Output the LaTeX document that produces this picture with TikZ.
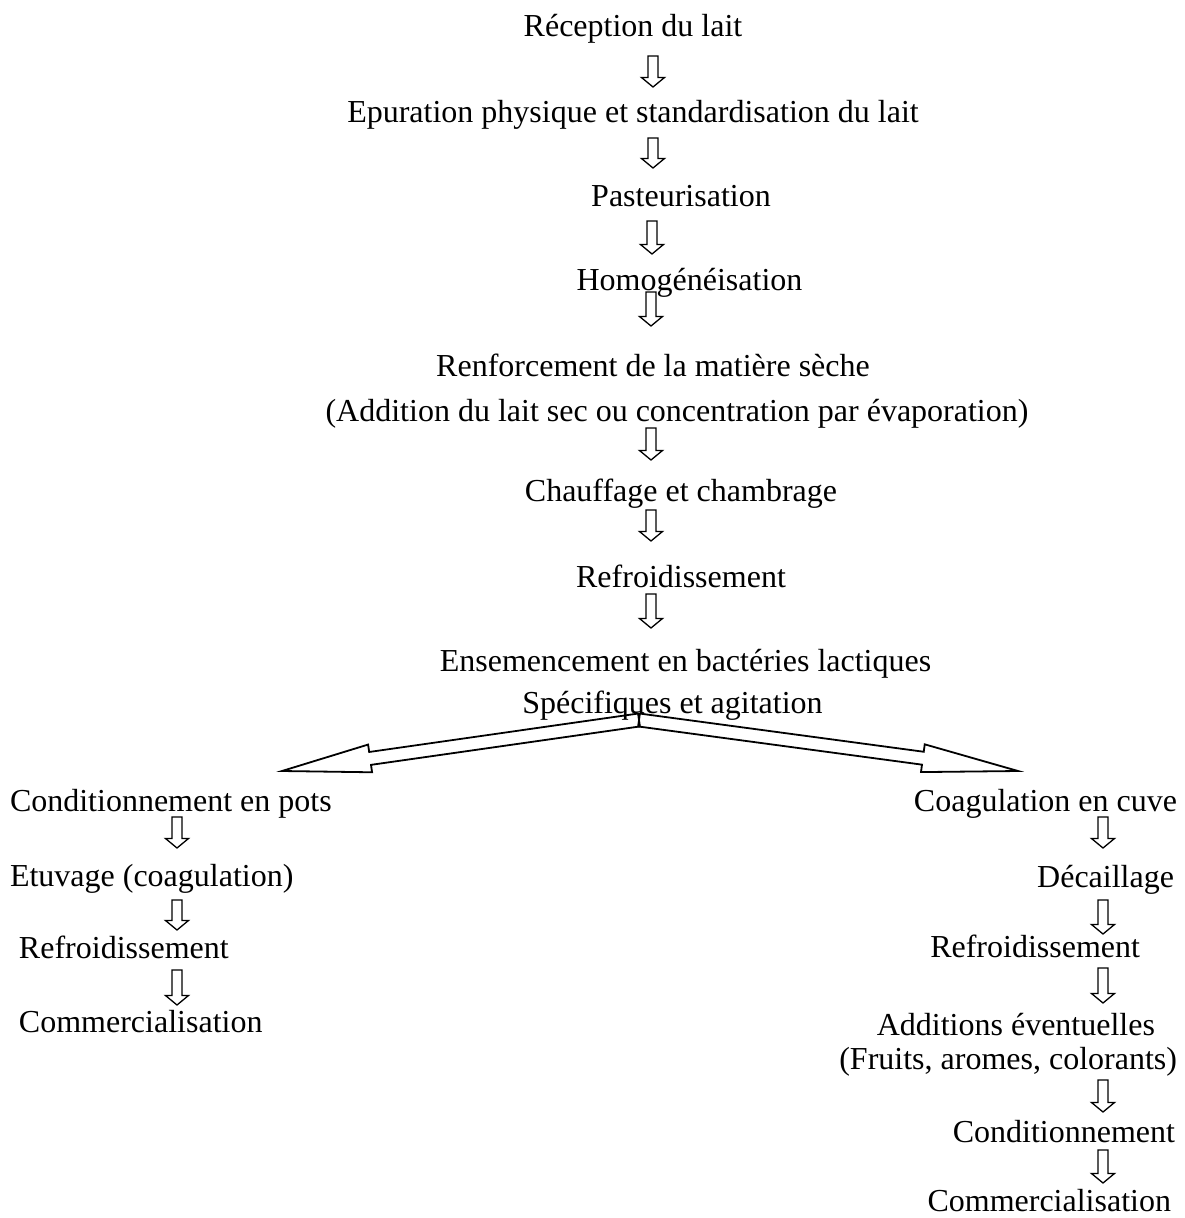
\documentclass[tikz,border=0pt]{standalone}
\usepackage{fontspec}
\setmainfont{Liberation Serif}
\usetikzlibrary{calc}
\tikzset{
  lbl/.style={inner sep=0pt, outer sep=0pt, font=\fontsize{32}{38}\selectfont},
  mid/.style={lbl, anchor=base},
  lft/.style={lbl, anchor=base west},
  rgt/.style={lbl, anchor=base east},
  smallarrow/.style={draw=black, line width=1.3pt, line join=miter},
  bigarrow/.style={draw=black, line width=1.8pt, line join=miter}
}
% #1 style, #2 start, #3 tip, #4 head length, #5 half shaft width, #6 half head width
\newcommand{\hollowarrow}[6][smallarrow]{%
  \coordinate (hb) at ($(#3)!#4!(#2)$);
  \draw[#1] ($(#2)!#5!90:(#3)$) -- ($(hb)!#5!90:(#3)$) -- ($(hb)!#6!90:(#3)$)
    -- (#3) -- ($(hb)!#6!-90:(#3)$) -- ($(hb)!#5!-90:(#3)$) -- ($(#2)!#5!-90:(#3)$) -- cycle;}
\newcommand{\downarrowat}[3]{% x, top, tip
  \coordinate (dA) at (#1,#2);
  \coordinate (dB) at (#1,#3);
  \hollowarrow{dA}{dB}{9.5pt}{5pt}{11.5pt}}
\begin{document}
\begin{tikzpicture}[x=1pt,y=-1pt]
\fill[white] (0,0) rectangle (1185,1218);
\useasboundingbox (0,0) rectangle (1185,1218);

% main column
\node[mid] (n1) at (633,36) {Réception du lait};
\node[mid] (n2) at (633,122) {Epuration physique et standardisation du lait};
\node[mid] (n3) at (681,206) {Pasteurisation};
\node[mid] (n4) at (689.5,290) {Homogénéisation};
\node[mid] (n5a) at (653,376) {Renforcement de la matière sèche};
\node[mid] (n5b) at (677,421) {(Addition du lait sec ou concentration par évaporation)};
\node[mid] (n6) at (681,501) {Chauffage et chambrage};
\node[mid] (n7) at (681,587) {Refroidissement};
\node[mid] (n8a) at (685.5,671) {Ensemencement en bactéries lactiques};
\node[mid] (n8b) at (672.5,713) {Spécifiques et agitation};

% left branch
\node[lft] (l1) at (10,811) {Conditionnement en pots};
\node[lft] (l2) at (10,886) {Etuvage (coagulation)};
\node[lft] (l3) at (19,958) {Refroidissement};
\node[lft] (l4) at (19,1032) {Commercialisation};

% right branch
\node[rgt] (r1) at (1177,811) {Coagulation en cuve};
\node[rgt] (r2) at (1174,887) {Décaillage};
\node[rgt] (r3) at (1140,957) {Refroidissement};
\node[rgt] (r4a) at (1155,1035) {Additions éventuelles};
\node[rgt] (r4b) at (1177,1069) {(Fruits, aromes, colorants)};
\node[rgt] (r5) at (1175,1142) {Conditionnement};
\node[rgt] (r6) at (1171,1211) {Commercialisation};

% small hollow arrows, main column
\downarrowat{653}{56}{87}
\downarrowat{653}{138}{168}
\downarrowat{652}{221}{254}
\downarrowat{651}{292}{326}
\downarrowat{651}{428}{460}
\downarrowat{651}{510}{541}
\downarrowat{651}{594}{628}

% left branch arrows
\downarrowat{177}{817}{848}
\downarrowat{177}{900}{930}
\downarrowat{177}{970}{1005}

% right branch arrows
\downarrowat{1103}{817}{848}
\downarrowat{1103}{900}{934}
\downarrowat{1103}{968}{1003}
\downarrowat{1103}{1080}{1112}
\downarrowat{1103}{1150}{1183}

% big branching arrows
\coordinate (split) at (639,720);
\coordinate (tipL) at (282,771);
\coordinate (tipR) at (1018,771);
\hollowarrow[bigarrow]{split}{tipL}{89pt}{6.5pt}{14pt}
\hollowarrow[bigarrow]{split}{tipR}{96pt}{6.5pt}{14pt}
\end{tikzpicture}
\end{document}
